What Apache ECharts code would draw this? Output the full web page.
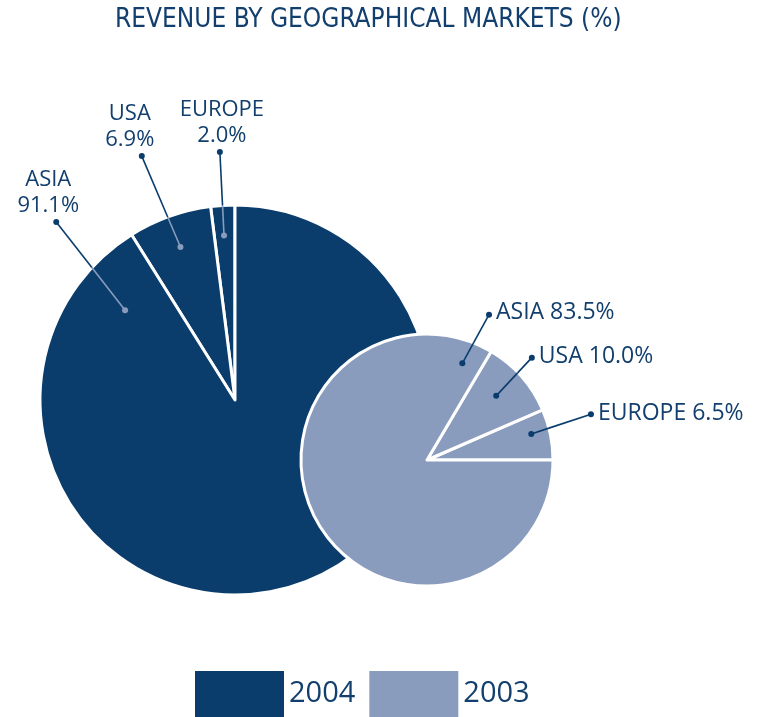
<!DOCTYPE html>
<html lang="en" style="height: 100%">
<head>
  <meta charset="utf-8">
</head>
<body style="height: 100%; margin: 0">
  <div id="container" style="width: 762px; height: 717px"></div>

  <script type="text/javascript" src="https://fastly.jsdelivr.net/npm/echarts@6/dist/echarts.min.js"></script>
  <script type="text/javascript">
    // regions in counter-clockwise order, as they sit on the pies
    var regions = ['EUROPE', 'USA', 'ASIA'];
    var share2004 = [2.0, 6.9, 91.1];
    var share2003 = [6.5, 10.0, 83.5];
    var years = ['2004', '2003'];

    var NAVY = '#0a3d6c';
    var LIGHT = '#8a9cbd';
    var TEXT = '#123f6d';
    var FONT = "'Open Sans', 'Noto Sans', sans-serif";

    var dom = document.getElementById('container');
    var myChart = echarts.init(dom, null, { renderer: 'canvas' });

    // where each callout sits: position inside the slice (frac of it, radius share)
    // and where its outer dot goes (radius share, angle in % of the circle)
    var pies = [
      {
        year: years[0], values: share2004, center: [235, 400], radius: 195, startAngle: 90,
        color: NAVY, dotColor: LIGHT, innerLine: LIGHT, twoLines: true,
        callouts: [
          { frac: 0.53, rIn: 0.846, rOut: 1.274, pOut: 0.97, offset: [2, 0] },
          { frac: 0.50, rIn: 0.833, rOut: 1.339, pOut: 5.81, offset: [-12, 0] },
          { frac: 0.057, rIn: 0.728, rOut: 1.294, pOut: 12.53, offset: [-8, 0] }
        ]
      },
      {
        year: years[1], values: share2003, center: [427, 460], radius: 126, startAngle: 0,
        color: LIGHT, dotColor: NAVY, innerLine: NAVY, twoLines: false,
        callouts: [
          { frac: 0.6, rIn: 0.853, rOut: 1.351, pOut: 4.33, offset: [0, -1] },
          { frac: 0.54, rIn: 0.749, rOut: 1.163, pOut: 12.31, offset: [0, -1] },
          { frac: 0.035, rIn: 0.817, rOut: 1.254, pOut: 18.58, offset: [0, -2] }
        ]
      }
    ];

    function toXY(r, p, start) {
      var th = (start + p * 3.6) * Math.PI / 180;
      return [r * Math.cos(th), r * Math.sin(th)];
    }
    function toRP(x, y, start) {
      var deg = Math.atan2(y, x) * 180 / Math.PI - start;
      deg = ((deg % 360) + 360) % 360;
      return [Math.sqrt(x * x + y * y), deg / 3.6];
    }

    var polar = [], angleAxis = [], radiusAxis = [], series = [];

    pies.forEach(function (pie, k) {
      var total = pie.values.reduce(function (a, b) { return a + b; }, 0);
      polar.push({ center: pie.center, radius: pie.radius * 1.5 });
      angleAxis.push({ polarIndex: k, type: 'value', min: 0, max: 100, startAngle: pie.startAngle, clockwise: false, show: false });
      radiusAxis.push({ polarIndex: k, type: 'value', min: 0, max: 1.5, show: false });

      series.push({
        type: 'pie',
        name: pie.year,
        center: pie.center,
        radius: pie.radius,
        startAngle: pie.startAngle,
        clockwise: false,
        silent: true,
        z: 2 + k,
        label: { show: false },
        labelLine: { show: false },
        itemStyle: { color: pie.color, borderColor: '#ffffff', borderWidth: 3 },
        data: regions.map(function (n, i) { return { name: n, value: pie.values[i] }; })
      });

      var innerDots = [], outerDots = [];
      var acc = 0;
      pie.values.forEach(function (v, i) {
        var c = pie.callouts[i];
        var pIn = (acc + c.frac * v) / total * 100;
        acc += v;
        // straight callout from the dot in the slice to the label dot,
        // split where it crosses the rim so the inner part can take its own colour
        var P = toXY(c.rIn, pIn, pie.startAngle);
        var Q = toXY(c.rOut, c.pOut, pie.startAngle);
        var D = [Q[0] - P[0], Q[1] - P[1]];
        var a = D[0] * D[0] + D[1] * D[1];
        var b = 2 * (P[0] * D[0] + P[1] * D[1]);
        var cc = P[0] * P[0] + P[1] * P[1] - 1;
        var t = (-b + Math.sqrt(b * b - 4 * a * cc)) / (2 * a);
        var edge = toRP(P[0] + t * D[0], P[1] + t * D[1], pie.startAngle);

        var lineBase = {
          type: 'line', coordinateSystem: 'polar', polarIndex: k, symbol: 'none',
          silent: true, clip: false, z: 6, animation: false
        };
        series.push(Object.assign({}, lineBase, {
          data: [[c.rIn, pIn], edge],
          lineStyle: { color: pie.innerLine, width: 1.6 }
        }));
        series.push(Object.assign({}, lineBase, {
          data: [edge, [c.rOut, c.pOut]],
          lineStyle: { color: NAVY, width: 1.6 }
        }));

        innerDots.push([c.rIn, pIn]);
        var txt = pie.twoLines
          ? regions[i] + '\n' + v.toFixed(1) + '%'
          : regions[i] + ' ' + v.toFixed(1) + '%';
        outerDots.push({ value: [c.rOut, c.pOut], name: txt, label: { offset: c.offset } });
      });

      series.push({
        type: 'scatter', coordinateSystem: 'polar', polarIndex: k, silent: true, clip: false, z: 7,
        symbol: 'circle', symbolSize: 6, itemStyle: { color: pie.dotColor, opacity: 1 },
        data: innerDots
      });
      series.push({
        type: 'scatter', coordinateSystem: 'polar', polarIndex: k, silent: true, clip: false, z: 7,
        symbol: 'circle', symbolSize: 6, itemStyle: { color: NAVY, opacity: 1 },
        label: {
          show: true,
          position: pie.twoLines ? 'top' : 'right',
          distance: pie.twoLines ? 0 : 4,
          align: pie.twoLines ? 'center' : 'left',
          formatter: function (p) { return p.name; },
          color: TEXT,
          fontFamily: FONT,
          fontSize: pie.twoLines ? 22 : 23,
          lineHeight: 26
        },
        data: outerDots
      });
    });

    var option = {
      animation: false,
      title: {
        text: 'REVENUE BY GEOGRAPHICAL MARKETS (%)',
        left: 110,
        top: 2,
        padding: 5,
        textStyle: {
          color: TEXT,
          fontSize: 26,
          fontWeight: 'normal',
          fontFamily: "'Liberation Sans Narrow', 'DejaVu Sans Condensed', sans-serif"
        }
      },
      legend: {
        left: 195,
        top: 671,
        padding: 0,
        icon: 'rect',
        itemWidth: 89,
        itemHeight: 46,
        itemGap: 14,
        selectedMode: false,
        itemStyle: { borderWidth: 0 },
        textStyle: { color: TEXT, fontSize: 29, fontFamily: FONT },
        data: [
          { name: years[0], itemStyle: { color: NAVY, borderWidth: 0 } },
          { name: years[1], itemStyle: { color: LIGHT, borderWidth: 0 } }
        ]
      },
      polar: polar,
      angleAxis: angleAxis,
      radiusAxis: radiusAxis,
      series: series
    };

    myChart.setOption(option);
    window.addEventListener('resize', myChart.resize);
  </script>
</body>
</html>
